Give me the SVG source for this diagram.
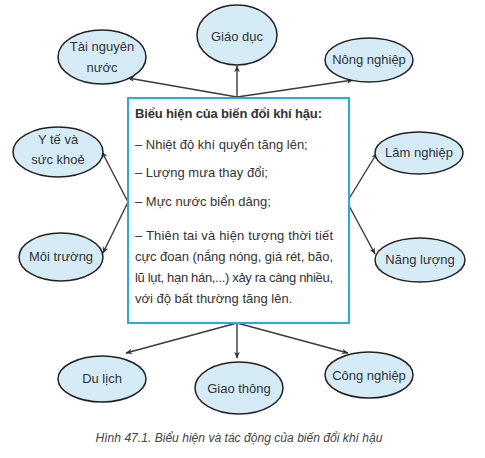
<svg xmlns="http://www.w3.org/2000/svg" width="485" height="458" viewBox="0 0 485 458">
<defs>
<marker id="ah" viewBox="0 0 10 10" refX="9" refY="5" markerWidth="7" markerHeight="7" orient="auto" markerUnits="userSpaceOnUse">
<path d="M0,1 L10,5 L0,9 L3,5 Z" fill="#333"/>
</marker>
<style>
.node ellipse{fill:#d5ecf7;stroke:#222;stroke-width:1.5}
.node text{font-family:"Liberation Sans",Arial,sans-serif;font-size:13px;fill:#333;text-anchor:middle}
.conn line{stroke:#3a3a3a;stroke-width:1.4;marker-end:url(#ah)}
.box text{font-family:"Liberation Sans",Arial,sans-serif;font-size:13px;fill:#333}
.cap{font-family:"Liberation Sans",Arial,sans-serif;font-size:12px;font-style:italic;fill:#444;text-anchor:middle}
</style>
</defs>
<rect width="485" height="458" fill="#fff"/>
<g id="connectors" class="conn">
<line x1="237" y1="97" x2="128" y2="78"/>
<line x1="237" y1="97" x2="237" y2="66"/>
<line x1="237" y1="97" x2="353" y2="80"/>
<line x1="128" y1="202" x2="102" y2="152"/>
<line x1="128" y1="202" x2="103" y2="253"/>
<line x1="347" y1="202" x2="377" y2="153"/>
<line x1="347" y1="202" x2="375" y2="254"/>
<line x1="237" y1="323" x2="126" y2="353"/>
<line x1="237" y1="323" x2="237" y2="358"/>
<line x1="237" y1="323" x2="348" y2="353"/>
</g>
<g id="box" class="box">
<rect x="128" y="98" width="221" height="225" fill="#fff" stroke="#29abe2" stroke-width="2"/>
<text x="135" y="118" font-weight="bold" textLength="187">Biểu hiện của biến đổi khí hậu:</text>
<text x="135" y="149">– Nhiệt độ khí quyển tăng lên;</text>
<text x="135" y="177">– Lượng mưa thay đổi;</text>
<text x="135" y="206">– Mực nước biển dâng;</text>
<text x="135" y="240" textLength="198" lengthAdjust="spacing">– Thiên tai và hiện tượng thời tiết</text>
<text x="135" y="261" textLength="198" lengthAdjust="spacing">cực đoan (nắng nóng, giá rét, bão,</text>
<text x="135" y="282" textLength="198" lengthAdjust="spacing">lũ lụt, hạn hán,...) xảy ra càng nhiều,</text>
<text x="135" y="303">với độ bất thường tăng lên.</text>
</g>
<g id="n-tainguyen" class="node"><ellipse cx="102" cy="57" rx="44" ry="27"/><text x="102" y="51">Tài nguyên</text><text x="102" y="72">nước</text></g>
<g id="n-giaoduc" class="node"><ellipse cx="237" cy="35" rx="40" ry="30"/><text x="237" y="41">Giáo dục</text></g>
<g id="n-nongnghiep" class="node"><ellipse cx="369" cy="60" rx="44" ry="22"/><text x="369" y="64">Nông nghiệp</text></g>
<g id="n-yte" class="node"><ellipse cx="58" cy="152" rx="45" ry="25"/><text x="58" y="144">Y tế và</text><text x="58" y="164">sức khoẻ</text></g>
<g id="n-moitruong" class="node"><ellipse cx="61" cy="257" rx="42" ry="24"/><text x="61" y="261">Môi trường</text></g>
<g id="n-lamnghiep" class="node"><ellipse cx="419" cy="153" rx="44" ry="21"/><text x="419" y="157">Lâm nghiệp</text></g>
<g id="n-nangluong" class="node"><ellipse cx="420" cy="260" rx="45" ry="22"/><text x="420" y="264">Năng lượng</text></g>
<g id="n-dulich" class="node"><ellipse cx="102" cy="379" rx="44" ry="23"/><text x="102" y="383">Du lịch</text></g>
<g id="n-giaothong" class="node"><ellipse cx="239" cy="388" rx="44" ry="26"/><text x="239" y="393">Giao thông</text></g>
<g id="n-congnghiep" class="node"><ellipse cx="369" cy="375" rx="44" ry="23"/><text x="369" y="380">Công nghiệp</text></g>
<text class="cap" x="239" y="442" textLength="287" lengthAdjust="spacingAndGlyphs">Hình 47.1. Biểu hiện và tác động của biến đổi khí hậu</text>
</svg>
